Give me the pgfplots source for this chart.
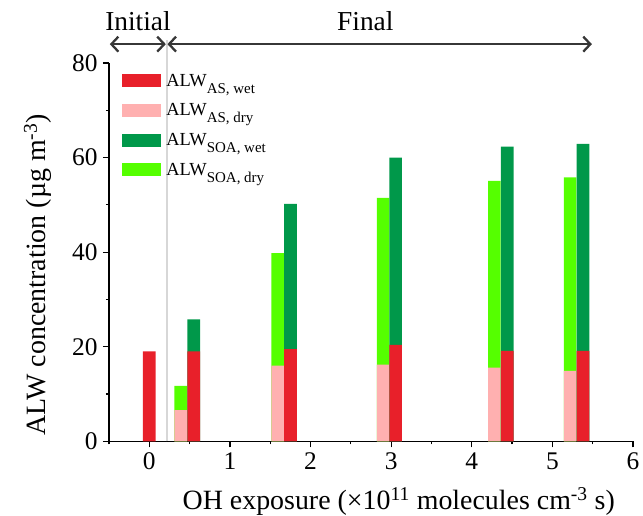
\documentclass[border=0pt]{standalone}
\usepackage{fontspec}
\setmainfont{Liberation Serif}
\usepackage{pgfplots}
\pgfplotsset{compat=1.18}
\usetikzlibrary{arrows.meta}
\definecolor{cRed}{RGB}{232,32,42}
\definecolor{cPink}{RGB}{255,176,176}
\definecolor{cDGreen}{RGB}{0,152,74}
\definecolor{cLGreen}{RGB}{85,255,0}
\definecolor{cArrow}{RGB}{55,55,55}
\definecolor{cGray}{RGB}{215,215,215}

\begin{document}
\begin{tikzpicture}
\begin{axis}[
  scale only axis, width=524bp, height=378.2bp,
  xmin=-0.5, xmax=6, ymin=0, ymax=80,
  axis x line=bottom, axis y line=left,
  axis line style={-, line width=1.2bp, black},
  tick align=outside,
  major tick length=6bp, minor tick length=3bp,
  every tick/.style={black, line width=1.2bp},
  xtick={0,1,...,6}, minor xtick={-0.5,0.5,...,5.5},
  ytick={0,20,...,80}, minor ytick={10,30,50,70},
  ticklabel style={font=\fontsize{25.5}{25.5}\selectfont},
  yticklabel style={xshift=-2bp},
  xticklabel style={yshift=-2bp},
  /pgf/number format/assume math mode=true,
  clip=false,
  xlabel={OH exposure (×10\textsuperscript{11} molecules cm\textsuperscript{-3} s)},
  ylabel={ALW concentration (µg m\textsuperscript{-3})},
  label style={font=\fontsize{28}{28}\selectfont},
  xlabel style={at={(axis description cs:0.553,-0.181)}, anchor=base, inner sep=0pt},
  ylabel style={at={(axis description cs:-0.1355,0.44)}, anchor=center},
  legend style={at={(axis description cs:0.025,0.977)}, anchor=north west, draw=none, fill=none,
    font=\fontsize{18.5}{18.5}\selectfont, row sep=12bp, column sep=3bp, inner sep=0pt},
  legend cell align=left,
  legend image code/.code={\fill[#1, draw=none] (0bp,-6.5bp) rectangle (39bp,6.5bp);},
]
\addlegendimage{fill=cRed}
\addlegendentry{ALW\raisebox{-7bp}{\fontsize{15}{15}\selectfont AS, wet}}
\addlegendimage{fill=cPink}
\addlegendentry{ALW\raisebox{-7bp}{\fontsize{15}{15}\selectfont AS, dry}}
\addlegendimage{fill=cDGreen}
\addlegendentry{ALW\raisebox{-7bp}{\fontsize{15}{15}\selectfont SOA, wet}}
\addlegendimage{fill=cLGreen}
\addlegendentry{ALW\raisebox{-7bp}{\fontsize{15}{15}\selectfont SOA, dry}}

% dry bars (left of each pair): total = AS dry + SOA dry
\addplot[forget plot, ybar, bar width=0.157, bar shift=0pt, fill=cLGreen, draw=none]
  coordinates {(0.39,11.7) (1.593,39.8) (2.90,51.5) (4.28,55.1) (5.22,55.8)};
\addplot[forget plot, ybar, bar width=0.157, bar shift=0pt, fill=cPink, draw=none]
  coordinates {(0.39,6.6) (1.593,16.0) (2.90,16.2) (4.28,15.6) (5.22,14.9)};
% wet bars (right of each pair): total = AS wet + SOA wet
\addplot[forget plot, ybar, bar width=0.157, bar shift=0pt, fill=cDGreen, draw=none]
  coordinates {(0.552,25.8) (1.752,50.2) (3.055,60.0) (4.44,62.3) (5.38,62.9)};
\addplot[forget plot, ybar, bar width=0.157, bar shift=0pt, fill=cRed, draw=none]
  coordinates {(0,19.0) (0.552,19.0) (1.752,19.5) (3.055,20.4) (4.44,19.1) (5.38,19.1)};

\draw[cGray, line width=2bp] (axis cs:0.215,0) -- (axis cs:0.215,84.8);
\draw[cArrow, line width=2.3bp, {Straight Barb[length=7bp,width=15bp]}-{Straight Barb[length=7bp,width=15bp]}]
  (axis cs:-0.49,84) -- (axis cs:0.205,84);
\draw[cArrow, line width=2.3bp, {Straight Barb[length=7bp,width=15bp]}-{Straight Barb[length=7bp,width=15bp]}]
  (axis cs:0.225,84) -- (axis cs:5.49,84);
\node[anchor=base, font=\fontsize{27.5}{27.5}\selectfont] at (axis cs:-0.14,86.8) {Initial};
\node[anchor=base, font=\fontsize{27.5}{27.5}\selectfont] at (axis cs:2.68,86.8) {Final};
\path (axis cs:-1.852,-15.54) rectangle (axis cs:6.124,93.34);
\end{axis}
\end{tikzpicture}
\end{document}
